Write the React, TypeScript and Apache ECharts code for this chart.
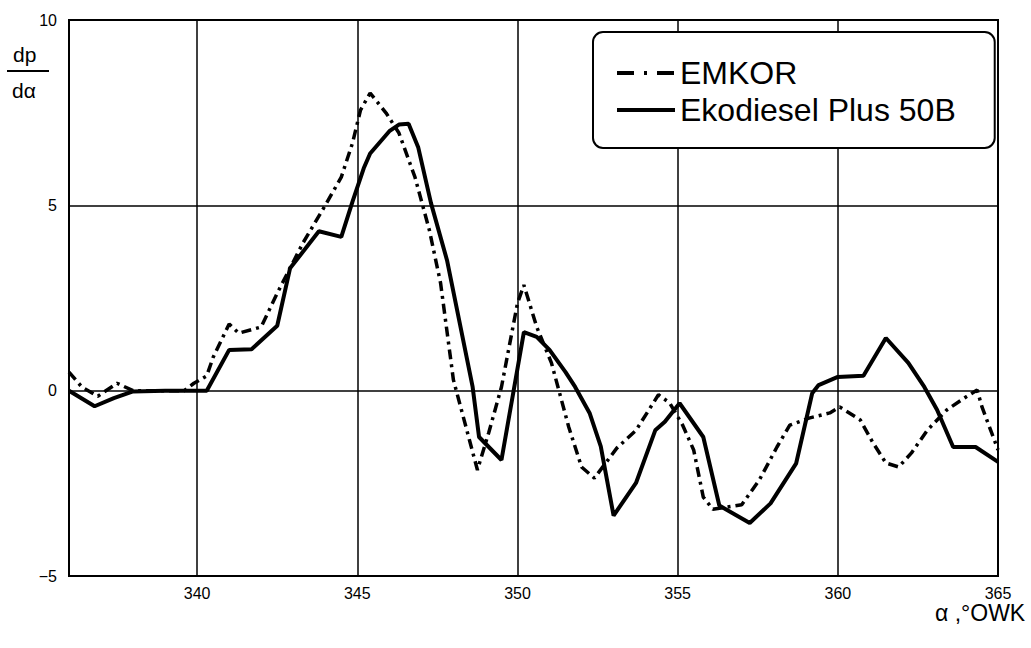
import React, { useEffect, useRef } from 'react';
import * as echarts from 'echarts';

const seriesNames = ['EMKOR', 'Ekodiesel Plus 50B'];

const emkorAngle = [
  336.0, 336.4, 336.9, 337.5, 338.0, 339.6, 339.9, 340.3, 340.5, 341.0,
  341.3, 342.0, 342.5, 343.3, 344.0, 344.5, 344.85, 345.1, 345.4, 345.9,
  346.3, 346.8, 347.25, 347.6, 348.0, 348.5, 348.75, 349.1, 349.5, 350.0,
  350.2, 350.6, 351.06, 351.6, 352.0, 352.4, 353.1, 353.7, 354.4, 354.75,
  355.15, 355.5, 355.8, 356.1, 357.0, 357.55, 358.1, 358.5, 359.1, 359.75,
  360.06, 360.7, 361.1, 361.5, 361.9, 362.3, 362.8, 363.4, 364.0, 364.35,
  364.5, 364.85, 365.0,
];
const emkorRate = [
  0.5, 0.1, -0.15, 0.2, 0.0, 0.0, 0.2, 0.4, 0.9, 1.8,
  1.55, 1.72, 2.63, 3.98, 5.0, 5.76, 6.68, 7.57, 8.03, 7.49,
  6.95, 5.76, 4.33, 2.9, 0.29, -1.33, -2.14, -1.14, 0.1, 2.36,
  2.85, 1.72, 0.75, -0.98, -2.06, -2.36, -1.55, -1.07, -0.11, -0.33,
  -0.92, -1.6, -2.87, -3.2, -3.08, -2.41, -1.52, -0.93, -0.74, -0.6,
  -0.44, -0.79, -1.41, -1.95, -2.06, -1.68, -1.06, -0.52, -0.17, 0.02,
  -0.44, -1.25, -1.6,
];

const ekoAngle = [
  336.0, 336.8, 337.4, 338.0, 339.0, 340.3, 341.0, 341.7, 342.5, 342.9,
  343.8, 344.5, 344.85, 345.2, 345.4, 346.0, 346.3, 346.6, 346.9, 347.3,
  347.8, 348.6, 348.8, 349.5, 350.2, 350.6, 351.0, 351.5, 351.8, 352.25,
  352.6, 353.0, 353.7, 354.3, 354.6, 355.06, 355.8, 356.3, 357.25, 357.9,
  358.7, 359.2, 359.4, 360.0, 360.8, 361.5, 362.2, 362.7, 363.1, 363.6,
  364.3, 365.0,
];
const ekoRate = [
  0.0, -0.42, -0.2, -0.02, 0.0, 0.0, 1.1, 1.12, 1.75, 3.3,
  4.3, 4.15, 5.1, 6.0, 6.4, 7.0, 7.18, 7.2, 6.57, 5.06,
  3.52, 0.1, -1.25, -1.87, 1.58, 1.45, 1.1, 0.5, 0.1, -0.6,
  -1.5, -3.37, -2.49, -1.07, -0.84, -0.34, -1.25, -3.1, -3.57, -3.04,
  -1.96, -0.07, 0.15, 0.37, 0.4, 1.42, 0.75, 0.1, -0.52, -1.52,
  -1.52, -1.92,
];

const FONT = 'Liberation Sans';

export default function App() {
  const ref = useRef<HTMLDivElement>(null);
  useEffect(() => {
    document.body.style.margin = '0';
    const chart = echarts.init(ref.current!, null, { renderer: 'svg' });
    chart.setOption({
      animation: false,
      backgroundColor: '#fff',
      grid: {
        left: 69, right: 33, top: 20, bottom: 72,
        show: true, borderColor: '#000', borderWidth: 2,
      },
      xAxis: {
        type: 'value', min: 336, max: 365, splitNumber: 6,
        axisLine: { show: false }, axisTick: { show: false },
        axisLabel: { showMinLabel: false, color: '#000', fontSize: 16, fontFamily: FONT, margin: 9 },
        splitLine: { show: true, lineStyle: { color: '#000', width: 1.5 } },
      },
      yAxis: {
        type: 'value', min: -5, max: 10, interval: 5,
        axisLine: { show: false }, axisTick: { show: false },
        axisLabel: {
          color: '#000', fontSize: 16, fontFamily: FONT, margin: 12,
          formatter: (v: number) => (v < 0 ? '\u2212' + Math.abs(v) : String(v)),
        },
        splitLine: { show: true, lineStyle: { color: '#000', width: 1.5 } },
      },
      legend: {
        orient: 'vertical', left: 593, top: 32,
        itemWidth: 58, itemHeight: 14, itemGap: 5,
        padding: [25, 39, 22, 22],
        borderColor: '#000', borderWidth: 2, borderRadius: 10,
        backgroundColor: '#fff',
        itemStyle: { opacity: 0 },
        lineStyle: { width: 4, color: '#000' },
        textStyle: { fontSize: 32, fontFamily: FONT, color: '#000' },
        data: [
          { name: seriesNames[0], lineStyle: { width: 4, color: '#000', type: [17, 10, 3, 10] } },
          { name: seriesNames[1], lineStyle: { width: 4, color: '#000', type: 'solid' } },
        ],
      },
      series: [
        {
          name: seriesNames[0], type: 'line', symbol: 'none',
          data: emkorAngle.map((x, i) => [x, emkorRate[i]]),
          itemStyle: { color: '#000' },
          lineStyle: { color: '#000', width: 3.5, type: [10, 5, 3, 5] },
          z: 3,
        },
        {
          name: seriesNames[1], type: 'line', symbol: 'none',
          data: ekoAngle.map((x, i) => [x, ekoRate[i]]),
          itemStyle: { color: '#000' },
          lineStyle: { color: '#000', width: 4, type: 'solid' },
          z: 4,
        },
      ],
      graphic: [
        { type: 'text', left: 13, top: 44, style: { text: 'dp', fontSize: 21, fontFamily: FONT, fill: '#000' } },
        { type: 'line', shape: { x1: 7, y1: 71, x2: 49, y2: 71 }, style: { stroke: '#000', lineWidth: 2 } },
        { type: 'text', left: 12, top: 80, style: { text: 'd\u03B1', fontSize: 21, fontFamily: FONT, fill: '#000' } },
        { type: 'text', left: 935, top: 601, style: { text: '\u03B1 ,\u00B0OWK', fontSize: 23, fontFamily: FONT, fill: '#000' } },
      ],
    });
    return () => chart.dispose();
  }, []);
  return <div ref={ref} style={{ width: 1031, height: 648 }} />;
}
